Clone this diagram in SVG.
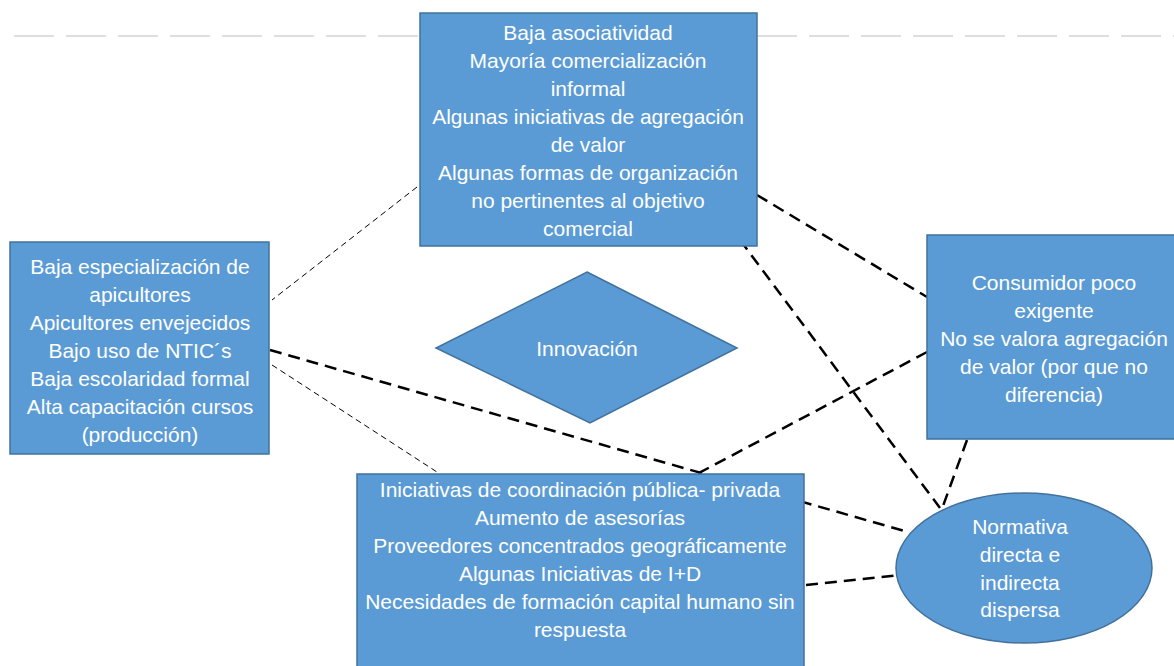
<svg xmlns="http://www.w3.org/2000/svg" width="1174" height="666" viewBox="0 0 1174 666">
<style>
.n{fill:#5b9bd5;stroke:#41719c;stroke-width:1.5}
.t{font-family:"Liberation Sans",Arial,sans-serif;font-size:21px;fill:#ffffff;text-anchor:middle}
.thick{stroke:#000;stroke-width:2.5;stroke-dasharray:12 7;fill:none}
.thin{stroke:#000;stroke-width:1;stroke-dasharray:6 4;fill:none}
.faint{stroke:#d4d4d4;stroke-width:1.5;stroke-dasharray:40 12;fill:none}
</style>
<rect width="1174" height="666" fill="#ffffff"/>
<g id="connectors">
<line class="faint" x1="14" y1="36" x2="420" y2="36"/>
<line class="faint" x1="757" y1="36" x2="1174" y2="36"/>
<line class="thin" x1="417" y1="187" x2="272" y2="300"/>
<line class="thin" x1="272" y1="365" x2="437" y2="472"/>
<line class="thick" x1="270" y1="350" x2="908" y2="532"/>
<line class="thick" x1="927" y1="352" x2="697" y2="474"/>
<line class="thick" x1="757" y1="195" x2="927" y2="297"/>
<line class="thick" x1="740" y1="240" x2="940" y2="508"/>
<line class="thick" x1="967" y1="440" x2="943" y2="506"/>
<line class="thick" x1="806" y1="585" x2="900" y2="575"/>
</g>
<g id="top">
<rect class="n" x="420" y="13" width="337" height="233"/>
<text class="t" x="588" y="40">Baja asociatividad</text>
<text class="t" x="588" y="68">Mayoría comercialización</text>
<text class="t" x="588" y="96">informal</text>
<text class="t" x="588" y="124">Algunas iniciativas de agregación</text>
<text class="t" x="588" y="152">de valor</text>
<text class="t" x="588" y="180">Algunas formas de organización</text>
<text class="t" x="588" y="208">no pertinentes al objetivo</text>
<text class="t" x="588" y="236">comercial</text>
</g>
<g id="left">
<rect class="n" x="10" y="242" width="259" height="212"/>
<text class="t" x="140" y="274">Baja especialización de</text>
<text class="t" x="140" y="302">apicultores</text>
<text class="t" x="140" y="330">Apicultores envejecidos</text>
<text class="t" x="140" y="358">Bajo uso de NTIC´s</text>
<text class="t" x="140" y="386">Baja escolaridad formal</text>
<text class="t" x="140" y="414">Alta capacitación cursos</text>
<text class="t" x="140" y="442">(producción)</text>
</g>
<g id="right">
<rect class="n" x="927" y="235" width="260" height="204"/>
<text class="t" x="1054" y="290">Consumidor poco</text>
<text class="t" x="1054" y="318">exigente</text>
<text class="t" x="1054" y="346">No se valora agregación</text>
<text class="t" x="1054" y="374">de valor (por que no</text>
<text class="t" x="1054" y="402">diferencia)</text>
</g>
<g id="innovacion">
<polygon class="n" points="587,272 737,348 590,423 436,348"/>
<text class="t" x="587" y="356">Innovación</text>
</g>
<g id="bottom">
<rect class="n" x="357" y="474" width="447" height="200"/>
<text class="t" x="580" y="497">Iniciativas de coordinación pública- privada</text>
<text class="t" x="580" y="525">Aumento de asesorías</text>
<text class="t" x="580" y="553">Proveedores concentrados geográficamente</text>
<text class="t" x="580" y="581">Algunas Iniciativas de I+D</text>
<text class="t" x="580" y="609">Necesidades de formación capital humano sin</text>
<text class="t" x="580" y="637">respuesta</text>
</g>
<g id="normativa">
<ellipse class="n" cx="1024" cy="568" rx="128" ry="75"/>
<text class="t" x="1020" y="534">Normativa</text>
<text class="t" x="1020" y="562">directa e</text>
<text class="t" x="1020" y="590">indirecta</text>
<text class="t" x="1020" y="617">dispersa</text>
</g>
</svg>
